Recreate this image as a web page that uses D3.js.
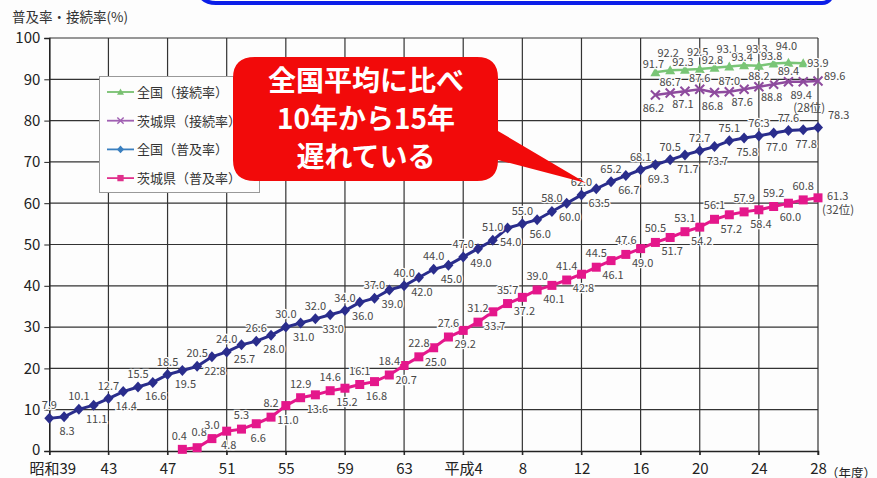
<!DOCTYPE html>
<html>
<head>
<meta charset="utf-8">
<script src="https://cdn.jsdelivr.net/npm/d3@7"></script>
<style>
  body { margin: 0; background: #fdfdfd; }
  text { font-family: "Noto Sans CJK JP", "Noto Sans", sans-serif; }
</style>
</head>
<body>
<div id="chart"></div>
<script>
// years 昭和39 (1964) .. 平成28 (2016)
const tickYears = [1964, 1968, 1972, 1976, 1980, 1984, 1988, 1992, 1996, 2000, 2004, 2008, 2012, 2016];
const tickLabels = ["昭和39", "43", "47", "51", "55", "59", "63", "平成4", "8", "12", "16", "20", "24", "28"];
const yTicks = [0, 10, 20, 30, 40, 50, 60, 70, 80, 90, 100];

// 全国（普及率） from 1964
const zenkokuFukyuStart = 1964;
const zenkokuFukyu = [7.9, 8.3, 10.1, 11.1, 12.7, 14.4, 15.5, 16.6, 18.5, 19.5, 20.5, 22.8, 24.0, 25.7, 26.6, 28.0,
  30.0, 31.0, 32.0, 33.0, 34.0, 36.0, 37.0, 39.0, 40.0, 42.0, 44.0, 45.0, 47.0, 49.0, 51.0, 54.0, 55.0, 56.0, 58.0,
  60.0, 62.0, 63.5, 65.2, 66.7, 68.1, 69.3, 70.5, 71.7, 72.7, 73.7, 75.1, 75.8, 76.3, 77.0, 77.6, 77.8, 78.3];

// 茨城県（普及率） from 1973
const ibarakiFukyuStart = 1973;
const ibarakiFukyu = [0.4, 0.8, 3.0, 4.8, 5.3, 6.6, 8.2, 11.0, 12.9, 13.6, 14.6, 15.2, 16.1, 16.8, 18.4, 20.7,
  22.8, 25.0, 27.6, 29.2, 31.2, 33.7, 35.7, 37.2, 39.0, 40.1, 41.4, 42.8, 44.5, 46.1, 47.6, 49.0, 50.5, 51.7,
  53.1, 54.2, 56.1, 57.2, 57.9, 58.4, 59.2, 60.0, 60.8, 61.3];

// 全国（接続率） from 2005
const zenkokuSetsuzokuStart = 2005;
const zenkokuSetsuzoku = [91.7, 92.2, 92.3, 92.5, 92.8, 93.1, 93.4, 93.3, 93.8, 94.0, 93.9];

// 茨城県（接続率） from 2005
const ibarakiSetsuzokuStart = 2005;
const ibarakiSetsuzoku = [86.2, 86.7, 87.1, 87.6, 86.8, 87.0, 87.6, 88.2, 88.8, 89.4, 89.4, 89.6];

const legendNames = ["全国（接続率）", "茨城県（接続率）", "全国（普及率）", "茨城県（普及率）"];

const width = 877, height = 478;
const svg = d3.select("#chart").append("svg")
  .attr("width", width).attr("height", height);

const x = d3.scaleLinear().domain([1964, 2016]).range([49.3, 818]);
const y = d3.scaleLinear().domain([0, 100]).range([451, 38]);

// blue frame edge at the top
svg.append("path")
  .attr("d", "M198,-12 Q200,3 216,3 L822,3 Q832,3 834,-12")
  .attr("fill", "none").attr("stroke", "#0b1ee8").attr("stroke-width", 4);

// axis title
svg.append("text").attr("x", 12).attr("y", 22)
  .attr("font-size", 13.5).attr("fill", "#333").text("普及率・接続率(%)");

// grid
const grid = svg.append("g").attr("stroke", "#333").attr("stroke-width", 1.2);
grid.selectAll(".h").data(yTicks.slice(1)).enter().append("line")
  .attr("x1", x(1964)).attr("x2", x(2016))
  .attr("y1", d => y(d)).attr("y2", d => y(d));
grid.selectAll(".v").data(tickYears.slice(1)).enter().append("line")
  .attr("x1", d => x(d)).attr("x2", d => x(d))
  .attr("y1", y(100)).attr("y2", y(0) + 4);

// axes
const yAxis = svg.append("g").attr("transform", `translate(${x(1964)},0)`)
  .call(d3.axisLeft(y).tickValues(yTicks).tickSize(5).tickPadding(4));
yAxis.select(".domain").attr("stroke", "#222").attr("stroke-width", 1.6);
yAxis.selectAll("line").attr("stroke", "#222");
yAxis.selectAll("text").attr("font-size", 15).attr("fill", "#222")
  .attr("font-family", "'Noto Sans', sans-serif");
yAxis.selectAll(".tick").filter(d => d === 0).select("text").attr("dy", "0.2em");

const xAxis = svg.append("g").attr("transform", `translate(0,${y(0)})`)
  .call(d3.axisBottom(x).tickValues(tickYears).tickSize(4).tickPadding(8)
    .tickFormat((d, i) => tickLabels[i]));
xAxis.select(".domain").attr("stroke", "#222").attr("stroke-width", 1.6);
xAxis.selectAll("line").attr("stroke", "#222");
xAxis.selectAll("text").attr("font-size", 15).attr("fill", "#222");
xAxis.selectAll(".tick").filter(d => d === 1964).select("text").attr("dx", 3);
svg.append("text").attr("x", 826).attr("y", y(0) + 27)
  .attr("font-size", 12.5).attr("fill", "#222").text("（年度）");

function toPoints(start, vals) {
  return vals.map((v, i) => ({ year: start + i, v: v, i: i, last: i === vals.length - 1 }));
}

const series = [
  { pts: toPoints(zenkokuFukyuStart, zenkokuFukyu), color: "#2a2d8c", width: 3, marker: "diamond",
    label: d => d.last ? [10, -9, "start"] : (d.i % 2 === 0 ? [0, -9, "middle"] : [3, 18, "middle"]) },
  { pts: toPoints(ibarakiFukyuStart, ibarakiFukyu), color: "#e4178b", width: 3, marker: "square",
    label: d => d.last ? [9, 2, "start"] : (d.i === 0 ? [-3, -9, "middle"] : d.i === 1 ? [2, -12, "middle"]
      : d.i % 2 === 0 ? [0, -10, "middle"] : [2, 18, "middle"]) },
  { pts: toPoints(zenkokuSetsuzokuStart, zenkokuSetsuzoku), color: "#79c576", width: 2.5, marker: "triangle",
    label: d => d.last ? [4, 4, "start"] : (d.i % 2 === 1 ? [-2, -13, "middle"] : [-2, -4, "middle"]) },
  { pts: toPoints(ibarakiSetsuzokuStart, ibarakiSetsuzoku), color: "#8e4b9e", width: 2.5, marker: "cross",
    label: d => d.last ? [6, -1, "start"] : (d.i % 2 === 0 ? [-2, 17, "middle"] : [0, -7, "middle"]) }
];

const line = d3.line().x(d => x(d.year)).y(d => y(d.v));

function drawMarker(g, type, color) {
  if (type === "diamond") {
    g.append("path").attr("d", "M0,-5.5L5,0L0,5.5L-5,0Z").attr("fill", color);
  } else if (type === "square") {
    g.append("rect").attr("x", -4.5).attr("y", -4.5).attr("width", 9).attr("height", 9).attr("fill", color);
  } else if (type === "triangle") {
    g.append("path").attr("d", "M0,-5L5,4L-5,4Z").attr("fill", color);
  } else {
    g.append("path").attr("d", "M-4.5,-4.5L4.5,4.5M-4.5,4.5L4.5,-4.5")
      .attr("stroke", color).attr("stroke-width", 2);
  }
}

series.forEach(s => {
  svg.append("path").datum(s.pts).attr("d", line)
    .attr("fill", "none").attr("stroke", s.color).attr("stroke-width", s.width);
  svg.append("g").selectAll("g").data(s.pts).enter().append("g")
    .attr("transform", d => `translate(${x(d.year)},${y(d.v)})`)
    .each(function () { drawMarker(d3.select(this), s.marker, s.color); });
});

// value labels
const labelG = svg.append("g");
series.forEach(s => {
  labelG.selectAll(null).data(s.pts).enter().append("text")
    .attr("x", d => x(d.year) + s.label(d)[0])
    .attr("y", d => y(d.v) + s.label(d)[1])
    .attr("text-anchor", d => s.label(d)[2])
    .attr("font-size", 11).attr("fill", "#484848")
    .attr("stroke", "#fdfdfd").attr("stroke-width", 2.5).attr("paint-order", "stroke")
    .attr("font-family", "'Noto Sans', sans-serif")
    .text(d => d.v.toFixed(1));
});
labelG.append("text").attr("x", x(2015) - 10).attr("y", y(89.4) + 30)
  .attr("font-size", 11.5).attr("fill", "#484848").text("(28位)");
labelG.append("text").attr("x", x(2016) + 4).attr("y", y(61.3) + 16)
  .attr("font-size", 11.5).attr("fill", "#484848").text("(32位)");

// legend
const legend = svg.append("g");
legend.append("rect").attr("x", 99.5).attr("y", 76.5).attr("width", 160).attr("height", 116)
  .attr("fill", "#fdfdfd").attr("stroke", "#999").attr("stroke-width", 1);
const legendColors = ["#78c070", "#a060b2", "#3a7fbf", "#e0308c"];
const legendMarkers = ["triangle", "cross", "diamond", "square"];
legendNames.forEach((name, i) => {
  const ly = 92 + i * 28.7;
  legend.append("line").attr("x1", 107).attr("x2", 134).attr("y1", ly).attr("y2", ly)
    .attr("stroke", legendColors[i]).attr("stroke-width", 1.8);
  const m = legend.append("g").attr("transform", `translate(120.5,${ly}) scale(0.7)`);
  drawMarker(m, legendMarkers[i], legendColors[i]);
  legend.append("text").attr("x", 137).attr("y", ly + 5)
    .attr("font-size", 13).attr("fill", "#333").text(name);
});

// callout
const callout = svg.append("g");
callout.append("path")
  .attr("d", "M255,57 L477,57 Q498,57 498,78 L498,131 L586,183 L498,160 L498,160 Q498,181 477,181 L255,181 Q233,181 233,160 L233,78 Q233,57 255,57 Z")
  .attr("fill", "#f20a0a");
const calloutLines = ["全国平均に比べ", "10年から15年", "遅れている"];
callout.selectAll(null).data(calloutLines).enter().append("text")
  .attr("x", 366).attr("y", (d, i) => 91 + i * 38)
  .attr("text-anchor", "middle").attr("font-size", 28).attr("font-weight", "bold")
  .attr("fill", "#fff").text(d => d);
</script>
</body>
</html>
